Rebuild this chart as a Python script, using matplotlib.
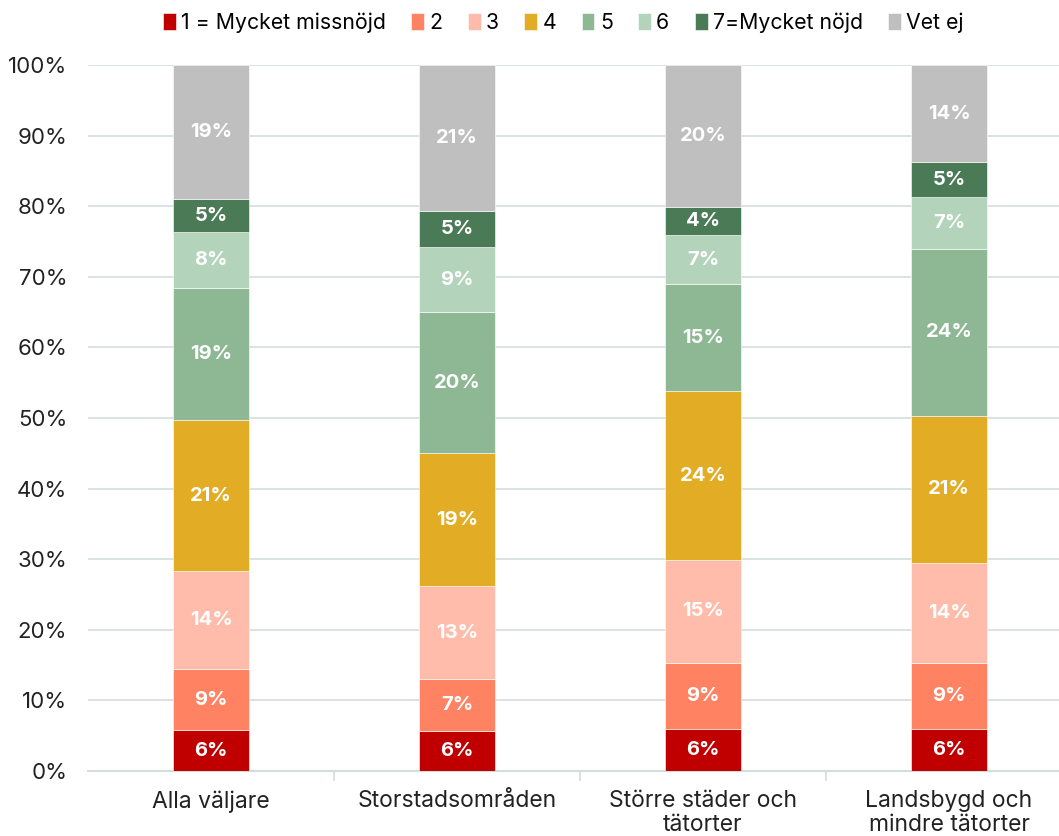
import numpy as np
import matplotlib.pyplot as plt

categories = ['Alla väljare', 'Storstadsområden', 'Större städer och\ntätorter',
              'Landsbygd och\nmindre tätorter']
series = ['1 = Mycket missnöjd', '2', '3', '4', '5', '6', '7=Mycket nöjd', 'Vet ej']
values = [
    [5.8, 5.7, 5.9, 5.9],
    [8.6, 7.3, 9.4, 9.4],
    [13.9, 13.2, 14.6, 14.2],
    [21.4, 18.8, 23.9, 20.8],
    [18.7, 20.0, 15.2, 23.7],
    [7.9, 9.2, 6.9, 7.3],
    [4.7, 5.1, 4.0, 4.9],
    [19.0, 20.7, 20.1, 13.8],
]
colors = ['#c00000', '#ff8363', '#ffbcaa', '#e2ad25', '#8db893', '#b4d3bb', '#4a7a56', '#bfbfbf']

plt.rcParams['font.family'] = ['Inter', 'DejaVu Sans']

fig = plt.figure(figsize=(10.59, 8.36), dpi=100)
ax = fig.add_axes([88/1059, 1 - 771/836, (1059-88)/1059, (771-65)/836])

x = np.arange(len(categories))
bottom = np.zeros(len(categories))
for name, vals, c in zip(series, values, colors):
    vals = np.array(vals)
    ax.bar(x, vals, 0.31, bottom=bottom, color=c, label=name, zorder=3,
           edgecolor='white', linewidth=0.4)
    for xi, b, v in zip(x, bottom, vals):
        ax.text(xi, b + v / 2, '%d%%' % round(v), ha='center', va='center',
                color='white', fontsize=14.5, fontweight='bold', zorder=4)
    bottom += vals

ax.set_ylim(0, 100)
ax.set_xlim(-0.5, 3.447)
ax.set_yticks(np.arange(0, 101, 10))
ax.set_yticklabels(['%d%%' % t for t in range(0, 101, 10)], fontsize=16, color='#222222')
ax.grid(axis='y', color='#d3dedb', linewidth=1.2, zorder=0)
ax.tick_params(axis='y', length=0, pad=15)
ax.set_xticks(x)
ax.set_xticklabels(categories, fontsize=16.5, color='#222222', linespacing=1.08)
ax.tick_params(axis='x', length=0, pad=14)
ax.set_xticks([0.5, 1.5, 2.5], minor=True)
ax.tick_params(axis='x', which='minor', length=7, width=1.2, color='#d3dedb')
for s in ['top', 'right', 'left']:
    ax.spines[s].set_visible(False)
ax.spines['bottom'].set_color('#d3dedb')
ax.spines['bottom'].set_linewidth(1.5)

fig.legend(*ax.get_legend_handles_labels(), loc='center', bbox_to_anchor=(0.532, 0.973),
           ncol=8, frameon=False, handlelength=0.6, handleheight=0.9,
           handletextpad=0.25, columnspacing=1.2, prop={'size': 15.3})

fig.savefig('out.png', dpi=100)
